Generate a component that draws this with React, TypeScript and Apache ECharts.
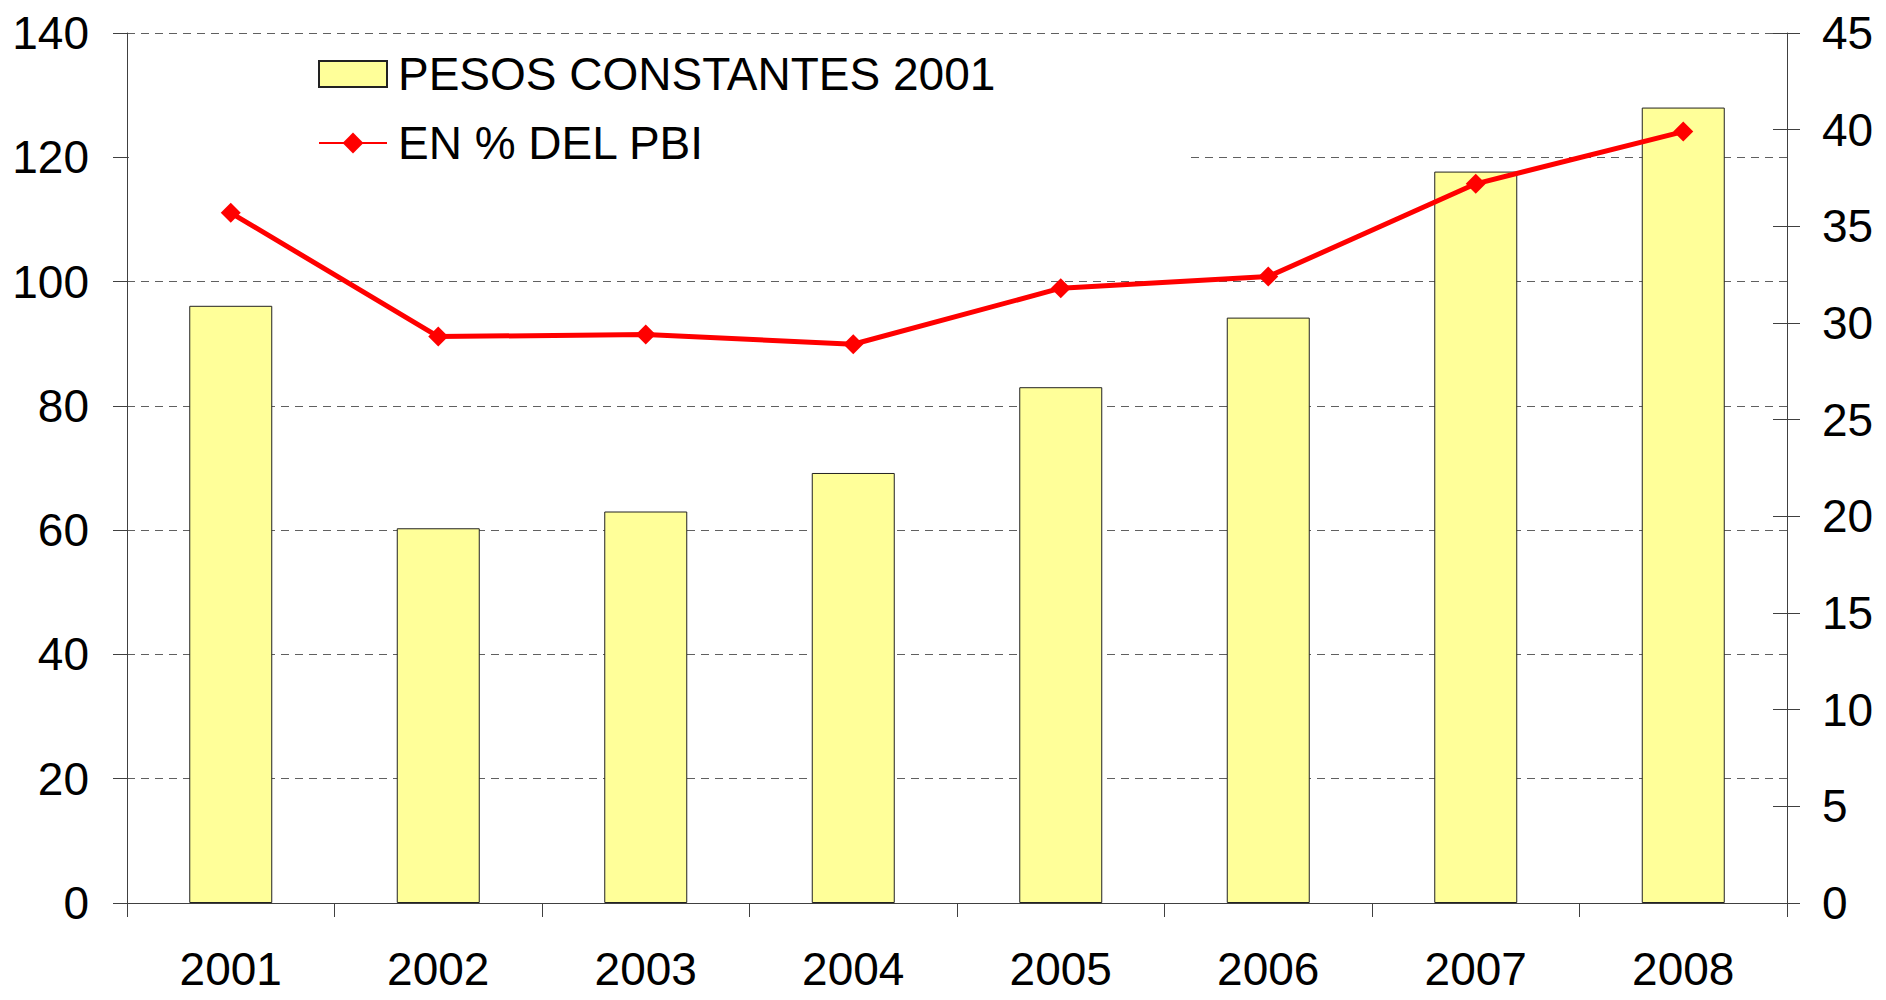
import React, { useEffect, useRef } from "react";
import * as echarts from "echarts";

const categories = ["2001", "2002", "2003", "2004", "2005", "2006", "2007", "2008"];
const pesosConstantes = [96.1, 60.3, 63.0, 69.2, 83.0, 94.2, 117.7, 128.0];
const pctPbi = [35.7, 29.3, 29.4, 28.9, 31.8, 32.4, 37.2, 39.9];
const seriesNames = ["PESOS CONSTANTES 2001", "EN % DEL PBI"];

const FONT = '"Liberation Sans", Arial, Helvetica, sans-serif';
const AXIS_COLOR = "#404040";
const FS = 46;

export default function App() {
  const ref = useRef<HTMLDivElement>(null);

  useEffect(() => {
    document.body.style.margin = "0";
    const chart = echarts.init(ref.current!, null, { renderer: "svg" });
    const option: any = {
      animation: false,
      backgroundColor: "#ffffff",
      textStyle: { fontFamily: FONT, color: "#000" },
      grid: { left: 127, right: 99, top: 33, bottom: 97, containLabel: false },
      graphic: [
        {
          type: "rect",
          z: 1,
          shape: { x: 129, y: 40, width: 1062, height: 136 },
          style: { fill: "#ffffff" },
          silent: true,
        },
      ],
      legend: {
        orient: "vertical",
        left: 318,
        top: 51,
        padding: 0,
        itemGap: 23,
        itemWidth: 68,
        itemHeight: 26,
        textStyle: { fontSize: FS, fontFamily: FONT, color: "#000", padding: [0, 0, 0, 6] },
        data: [
          { name: seriesNames[0], icon: "rect" },
          { name: seriesNames[1] },
        ],
      },
      xAxis: {
        type: "category",
        data: categories,
        boundaryGap: true,
        axisLine: { show: true, lineStyle: { color: AXIS_COLOR, width: 1 } },
        axisTick: { show: true, inside: false, length: 14, alignWithLabel: false, lineStyle: { color: AXIS_COLOR } },
        axisLabel: { fontSize: FS, color: "#000", fontFamily: FONT, margin: 43 },
        splitLine: { show: false },
      },
      yAxis: [
        {
          type: "value",
          position: "left",
          min: 0,
          max: 140,
          interval: 20,
          axisLine: { show: true, lineStyle: { color: AXIS_COLOR, width: 1 } },
          axisTick: { show: true, inside: false, length: 14, lineStyle: { color: AXIS_COLOR } },
          axisLabel: { fontSize: FS, color: "#000", fontFamily: FONT, margin: 38 },
          splitLine: { show: true, lineStyle: { color: "#606060", type: [8, 6], width: 1 } },
        },
        {
          type: "value",
          position: "right",
          min: 0,
          max: 45,
          interval: 5,
          axisLine: { show: true, onZero: false, lineStyle: { color: AXIS_COLOR, width: 1 } },
          axisTick: { show: true, inside: false, length: 13, lineStyle: { color: AXIS_COLOR } },
          axisLabel: { fontSize: FS, color: "#000", fontFamily: FONT, margin: 35 },
          splitLine: { show: false },
        },
        {
          type: "value",
          position: "right",
          min: 0,
          max: 45,
          interval: 5,
          axisLine: { show: false },
          axisTick: { show: true, inside: true, length: 14, lineStyle: { color: AXIS_COLOR } },
          axisLabel: { show: false },
          splitLine: { show: false },
        },
      ],
      series: [
        {
          name: seriesNames[0],
          type: "bar",
          yAxisIndex: 0,
          data: pesosConstantes,
          barWidth: "40%",
          itemStyle: { color: "#FFFF99", borderColor: "#222222", borderWidth: 1 },
          z: 2,
        },
        {
          name: seriesNames[1],
          type: "line",
          yAxisIndex: 1,
          data: pctPbi,
          symbol: "diamond",
          symbolSize: 20,
          lineStyle: { color: "#FF0000", width: 5 },
          itemStyle: { color: "#FF0000" },
          z: 3,
        },
      ],
    };
    chart.setOption(option);
    return () => chart.dispose();
  }, []);

  return (
    <div
      ref={ref}
      style={{ position: "fixed", left: 0, top: 0, width: 1886, height: 1000 }}
    />
  );
}
